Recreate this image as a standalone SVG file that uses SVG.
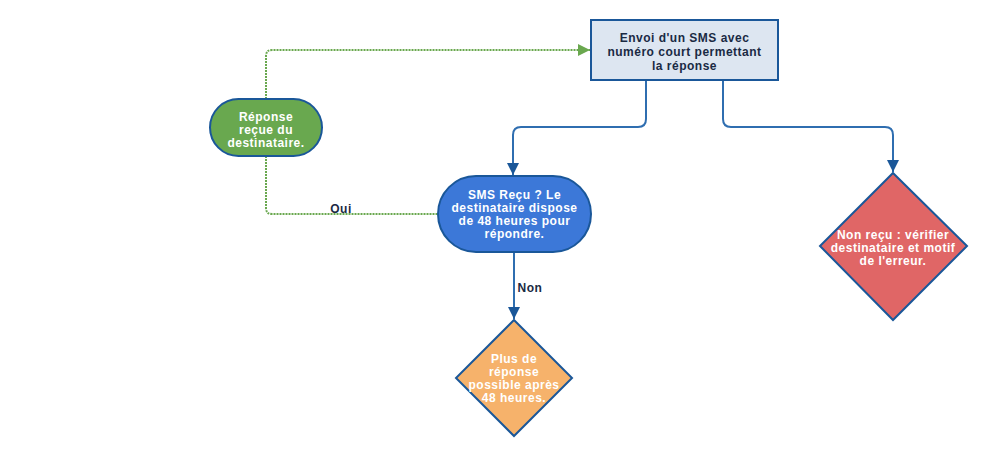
<svg xmlns="http://www.w3.org/2000/svg" width="992" height="456" viewBox="0 0 992 456">
<style>
.node{stroke:#1a5799;stroke-width:2}
.t{font-family:"Liberation Sans",Arial,sans-serif;font-size:12px;letter-spacing:0.5px;font-weight:bold;text-anchor:middle}
.w{fill:#ffffff}
.d{fill:#1a2a44}
.c{fill:none;stroke:#2f6eb0;stroke-width:2}
.g{fill:none;stroke:#6aa84f;stroke-width:2;stroke-dasharray:2 1}
</style>
<defs>
<marker id="ab" markerWidth="14" markerHeight="14" refX="12" refY="7" orient="auto" markerUnits="userSpaceOnUse" viewBox="0 0 14 14">
<path d="M0,1 L12,7 L0,13 Z" fill="#1a5799"/>
</marker>
<marker id="ag" markerWidth="14" markerHeight="14" refX="12" refY="7" orient="auto" markerUnits="userSpaceOnUse" viewBox="0 0 14 14">
<path d="M0,1 L12,7 L0,13 Z" fill="#6aa84f"/>
</marker>
</defs>
<rect width="992" height="456" fill="#ffffff"/>
<g id="connectors">
<path class="c" d="M646,80 V119 Q646,127 638,127 H521 Q513,127 513,135 V175" marker-end="url(#ab)"/>
<path class="c" d="M723,80 V119 Q723,127 731,127 H885 Q893,127 893,135 V172" marker-end="url(#ab)"/>
<path class="c" d="M514,252 V319" marker-end="url(#ab)"/>
<path class="g" d="M266,99 V56 Q266,50 272,50 H590" marker-end="url(#ag)"/>
<path class="g" d="M266,156 V208 Q266,214 272,214 H438"/>
<text class="t d" x="341" y="213">Oui</text>
<text class="t d" x="530" y="292">Non</text>
</g>
<g id="n1">
<rect class="node" x="591" y="20" width="187" height="60" fill="#dde6f1"/>
<text class="t d" x="684.5" y="42">Envoi d'un SMS avec</text>
<text class="t d" x="684.5" y="56">numéro court permettant</text>
<text class="t d" x="684.5" y="70">la réponse</text>
</g>
<g id="n2">
<rect class="node" x="210" y="99" width="112" height="57" rx="28.5" fill="#69a84f"/>
<text class="t w" x="266" y="121">Réponse</text>
<text class="t w" x="266" y="134">reçue du</text>
<text class="t w" x="266" y="147">destinataire.</text>
</g>
<g id="n3">
<rect class="node" x="438" y="176" width="153" height="76" rx="38" fill="#3c78d8"/>
<text class="t w" x="514.5" y="199">SMS Reçu ? Le</text>
<text class="t w" x="514.5" y="212">destinataire dispose</text>
<text class="t w" x="514.5" y="225">de 48 heures pour</text>
<text class="t w" x="514.5" y="238">répondre.</text>
</g>
<g id="n4">
<polygon class="node" points="514,320 572,378 514,436 456,378" fill="#f6b26b"/>
<text class="t w" x="514" y="363">Plus de</text>
<text class="t w" x="514" y="376">réponse</text>
<text class="t w" x="514" y="389">possible après</text>
<text class="t w" x="514" y="402">48 heures.</text>
</g>
<g id="n5">
<polygon class="node" points="893,173 967,246 893,320 820,246" fill="#e06666"/>
<text class="t w" x="893" y="239">Non reçu : vérifier</text>
<text class="t w" x="893" y="252">destinataire et motif</text>
<text class="t w" x="893" y="265">de l'erreur.</text>
</g>
</svg>
